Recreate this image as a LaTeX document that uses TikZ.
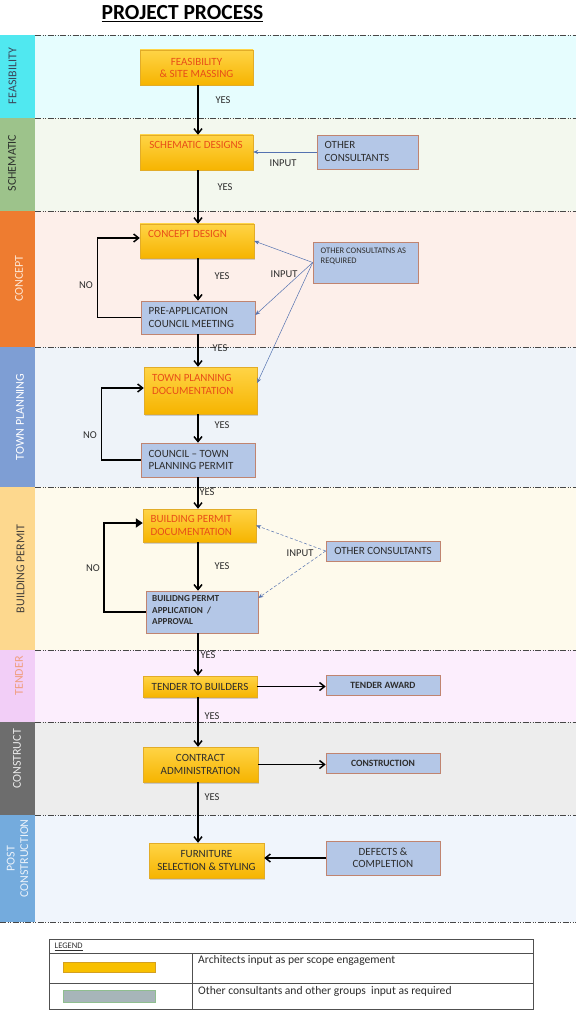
\documentclass[tikz,border=0pt]{standalone}
\usepackage{fontspec}
\setmainfont{Carlito}
\usetikzlibrary{arrows.meta,shadows,calc}

\definecolor{ylw1}{RGB}{255,212,70}
\definecolor{ylw2}{RGB}{246,180,0}
\definecolor{ybord}{RGB}{226,172,40}
\definecolor{redt}{RGB}{232,78,24}
\definecolor{bfill}{RGB}{180,199,231}
\definecolor{bbord}{RGB}{192,132,112}
\definecolor{darkt}{RGB}{45,45,45}
\definecolor{inblue}{RGB}{84,114,176}
\definecolor{dashc}{RGB}{70,70,70}
% lanes
\definecolor{laneA}{RGB}{230,253,254}
\definecolor{colA}{RGB}{80,232,240}
\definecolor{laneB}{RGB}{243,248,238}
\definecolor{colB}{RGB}{157,195,139}
\definecolor{laneC}{RGB}{253,239,234}
\definecolor{colC}{RGB}{238,124,48}
\definecolor{laneD}{RGB}{238,243,249}
\definecolor{colD}{RGB}{126,158,212}
\definecolor{laneE}{RGB}{254,250,236}
\definecolor{colE}{RGB}{253,216,142}
\definecolor{laneF}{RGB}{252,238,253}
\definecolor{colF}{RGB}{242,206,247}
\definecolor{txtF}{RGB}{240,158,128}
\definecolor{laneG}{RGB}{237,237,237}
\definecolor{colG}{RGB}{109,109,109}
\definecolor{laneH}{RGB}{240,245,252}
\definecolor{colH}{RGB}{116,171,221}
\definecolor{swy}{RGB}{248,192,0}
\definecolor{swyb}{RGB}{212,160,32}
\definecolor{swg}{RGB}{167,181,185}
\definecolor{swgb}{RGB}{143,190,143}

\tikzset{
  ybox/.style={draw=ybord, line width=0.4pt, top color=ylw1, bottom color=ylw2,
    drop shadow={shadow xshift=1pt, shadow yshift=-1.5pt, opacity=0.35},
    inner sep=0pt, align=center, text=darkt},
  bbox/.style={draw=bbord, line width=0.6pt, fill=bfill, inner sep=0pt, align=center, text=darkt},
  redtxt/.style={text=redt, align=left, inner sep=0pt},
  drktxt/.style={text=darkt, align=left, inner sep=0pt},
  mainarrow/.style={draw=black, line width=1.5pt, -{Straight Barb[length=5pt,width=8pt,line width=1.5pt]}},
  thickloop/.style={draw=black, line width=2.4pt, -{Triangle[length=7pt,width=9pt]}},
  inarrow/.style={draw=inblue, line width=0.5pt, -{Stealth[length=5pt,width=4pt]}},
  indash/.style={inarrow, dash pattern=on 3pt off 2pt},
  lanedash/.style={draw=dashc, line width=0.6pt, dash pattern=on 6pt off 1.5pt on 1pt off 1.5pt on 1pt off 1.5pt},
  sidelab/.style={rotate=90, align=center, inner sep=0pt, font=\fontsize{12}{13.5}\selectfont},
  lbl/.style={text=darkt, inner sep=0pt, font=\fontsize{10.5}{12}\selectfont},
  legtxt/.style={text=darkt, anchor=west, inner sep=0pt, font=\fontsize{11.6}{13}\selectfont},
}

\begin{document}
\begin{tikzpicture}[x=1pt,y=-1pt, font=\fontsize{11}{12.8}\selectfont]
\useasboundingbox (0,0) rectangle (576,1024);
\fill[white] (0,0) rectangle (576,1024);

% ---- lanes ----
\fill[laneA] (35,35) rectangle (576,118);  \fill[colA] (0,35) rectangle (35,118);
\fill[laneB] (35,118) rectangle (576,211); \fill[colB] (0,118) rectangle (35,211);
\fill[laneC] (35,211) rectangle (576,347); \fill[colC] (0,211) rectangle (35,347);
\fill[laneD] (35,347) rectangle (576,487); \fill[colD] (0,347) rectangle (35,487);
\fill[laneE] (35,487) rectangle (576,650); \fill[colE] (0,487) rectangle (35,650);
\fill[laneF] (35,650) rectangle (576,722); \fill[colF] (0,650) rectangle (35,722);
\fill[laneG] (35,722) rectangle (576,815); \fill[colG] (0,722) rectangle (35,815);
\fill[laneH] (35,815) rectangle (576,922); \fill[colH] (0,815) rectangle (35,922);

\node[sidelab, text={rgb,255:red,60;green,70;blue,90}] (s1) at (12.5,76) {FEASIBILITY};
\node[sidelab, text={rgb,255:red,45;green,50;blue,45}] (s2) at (12,163) {SCHEMATIC};
\node[sidelab, text={rgb,255:red,253;green,232;blue,214}] (s3) at (19,278.5) {CONCEPT};
\node[sidelab, text=white] (s4) at (20,417) {TOWN PLANNING};
\node[sidelab, text={rgb,255:red,70;green,65;blue,60}] (s5) at (20.5,569) {BUILDING PERMIT};
\node[sidelab, text=txtF] (s6) at (19,676) {TENDER};
\node[sidelab, text={rgb,255:red,235;green,235;blue,235}] (s7) at (17,759) {CONSTRUCT};
\node[sidelab, text={rgb,255:red,235;green,242;blue,250}] (s8) at (17.5,858.5) {POST\\CONSTRUCTION};

\foreach \yy in {35,118,211,347,487,650,722,815}{
  \draw[lanedash] (35,\yy) -- (576,\yy);
}
\draw[lanedash] (0,922) -- (576,922);

% ---- title ----
\node[font=\bfseries\fontsize{21.5}{24}\selectfont, text=black] (title) at (182.5,14) {\underline{PROJECT PROCESS}};

% ---- boxes ----
\node[ybox, minimum width=113, minimum height=35, text=redt, font=\fontsize{11}{12}\selectfont] (fea) at (196.5,67.5) {FEASIBILITY\\\& SITE MASSING};
\node[ybox, minimum width=113, minimum height=35] (sch) at (196.5,152.5) {};
\node[redtxt] (scht) at (196,145) {SCHEMATIC DESIGNS};
\node[bbox, minimum width=101, minimum height=34] (oc1) at (367.5,152) {};
\node[drktxt, anchor=west] (oc1t) at (324.5,151.5) {OTHER\\CONSULTANTS};

\node[ybox, minimum width=114, minimum height=34] (cd) at (197,241) {};
\node[redtxt, anchor=west] (cdt) at (148,234) {CONCEPT DESIGN};
\node[bbox, minimum width=114, minimum height=33] (pre) at (198,317.5) {};
\node[drktxt, anchor=west, font=\fontsize{11}{12.3}\selectfont] (pret) at (148.5,317.5) {PRE-APPLICATION\\COUNCIL MEETING};
\node[bbox, minimum width=105, minimum height=41] (oc2) at (365.5,262.5) {};
\node[drktxt, anchor=north west, font=\fontsize{8.5}{10}\selectfont] (oc2t) at (320.5,248) {OTHER CONSULTATNS AS\\REQUIRED};

\node[ybox, minimum width=113, minimum height=47] (tp) at (200.5,390.5) {};
\node[redtxt, anchor=north west] (tpt) at (152,374.5) {TOWN PLANNING\\DOCUMENTATION};
\node[bbox, minimum width=114, minimum height=34] (cou) at (198,460) {};
\node[drktxt, anchor=west, font=\fontsize{11}{12.3}\selectfont] (cout) at (148.5,460) {COUNCIL -- TOWN\\PLANNING PERMIT};

\node[ybox, minimum width=113, minimum height=33] (bp) at (199.5,525.5) {};
\node[redtxt, anchor=west] (bpt) at (150.5,525.5) {BUILDING PERMIT\\DOCUMENTATION};
\node[bbox, minimum width=112, minimum height=42] (bpa) at (202,612) {};
\node[drktxt, anchor=west, font=\bfseries\fontsize{9.2}{11.5}\selectfont] (bpat) at (152,610.5) {BUILIDNG PERMT\\APPLICATION~~/\\APPROVAL};
\node[bbox, minimum width=114, minimum height=20] (oc3) at (383,551) {OTHER CONSULTANTS};

\node[ybox, minimum width=114, minimum height=21] (ten) at (200,686.5) {TENDER TO BUILDERS};
\node[bbox, minimum width=114, minimum height=20, font=\bfseries\fontsize{9.6}{11}\selectfont] (ta) at (383,685) {TENDER AWARD};
\node[ybox, minimum width=115, minimum height=35, font=\fontsize{11}{12.5}\selectfont] (con) at (200.5,764.5) {CONTRACT\\ADMINISTRATION};
\node[bbox, minimum width=114, minimum height=20, font=\bfseries\fontsize{9.6}{11}\selectfont] (cst) at (383,763) {CONSTRUCTION};
\node[ybox, minimum width=115, minimum height=35, font=\fontsize{11}{12.5}\selectfont] (fur) at (206.5,860.5) {FURNITURE\\SELECTION \& STYLING};
\node[bbox, minimum width=114, minimum height=34, font=\fontsize{11}{12.5}\selectfont] (def) at (383,858) {DEFECTS \&\\COMPLETION};

% ---- main flow ----
\coordinate (sp) at (198,0);
\draw[mainarrow] (fea.south -| sp) -- (sch.north -| sp);
\draw[mainarrow] (sch.south -| sp) -- (cd.north -| sp);
\draw[mainarrow] (cd.south -| sp) -- (pre.north -| sp);
\draw[mainarrow] (pre.south -| sp) -- (tp.north -| sp);
\draw[mainarrow] (tp.south -| sp) -- (cou.north -| sp);
\draw[mainarrow] (cou.south -| sp) -- (bp.north -| sp);
\draw[mainarrow] (bp.south -| sp) -- (bpa.north -| sp);
\draw[mainarrow] (bpa.south -| sp) -- (ten.north -| sp);
\draw[mainarrow] (ten.south -| sp) -- (con.north -| sp);
\draw[mainarrow] (con.south -| sp) -- (fur.north -| sp);

\draw[mainarrow] (ten.east) -- (ten.east -| ta.west);
\draw[mainarrow] (con.east) -- (con.east -| cst.west);
\draw[mainarrow] (def.west) -- (def.west -| fur.east);

% ---- loops ----
\draw[mainarrow] (pre.west) -- ++(-43,0) |- ([yshift=3pt]cd.west);
\draw[mainarrow] (cou.west) -- ++(-39,0) |- ([yshift=2.5pt]tp.west);
\draw[thickloop] (bpa.west) -- ++(-42,0) |- ([yshift=2.5pt]bp.west);

% ---- inputs ----
\draw[inarrow] (oc1.west) -- (oc1.west -| sch.east);
\draw[inarrow] (oc2.west) -- (cd.east);
\draw[inarrow] (oc2.west) -- ([yshift=2.5pt]pre.east);
\draw[inarrow] (oc2.west) -- ([yshift=7.5pt]tp.east);
\draw[indash] (oc3.west) -- (bp.east);
\draw[indash] (oc3.west) -- ([yshift=14pt]bpa.east);

% ---- labels ----
\node[lbl] (y1) at (223,100) {YES};
\node[lbl] (y2) at (225,187) {YES};
\node[lbl] (y3) at (222,276) {YES};
\node[lbl] (y4) at (220,348) {YES};
\node[lbl] (y5) at (222,425) {YES};
\node[lbl] (y6) at (207,492) {YES};
\node[lbl] (y7) at (222,566) {YES};
\node[lbl] (y8) at (208,655) {YES};
\node[lbl] (y9) at (212,716) {YES};
\node[lbl] (y10) at (212,797) {YES};
\node[lbl] (n1) at (86,285) {NO};
\node[lbl] (n2) at (90,435) {NO};
\node[lbl] (n3) at (93,568) {NO};
\node[lbl] (i1) at (283,163) {INPUT};
\node[lbl] (i2) at (284,274) {INPUT};
\node[lbl] (i3) at (300,553) {INPUT};

% ---- legend ----
\draw[draw={rgb,255:red,80;green,80;blue,80}, line width=0.8pt] (49,939) rectangle (533,1009);
\draw[draw={rgb,255:red,80;green,80;blue,80}, line width=0.8pt] (49,953) -- (533,953);
\draw[draw={rgb,255:red,80;green,80;blue,80}, line width=0.8pt] (49,983) -- (533,983);
\draw[draw={rgb,255:red,80;green,80;blue,80}, line width=0.8pt] (192,953) -- (192,1009);
\node[text=darkt, anchor=west, inner sep=0pt, font=\fontsize{8.5}{10}\selectfont] (lg) at (54.5,946.5) {\underline{LEGEND}};
\node[draw=swyb, fill=swy, minimum width=92, minimum height=10, inner sep=0pt] (sw1) at (109,967) {};
\node[draw=swgb, fill=swg, minimum width=92, minimum height=12, inner sep=0pt] (sw2) at (109,996) {};
\node[legtxt] (lt1) at (198,960) {Architects input as per scope engagement};
\node[legtxt] (lt2) at (198,991) {Other consultants and other groups~ input as required};
\end{tikzpicture}
\end{document}
